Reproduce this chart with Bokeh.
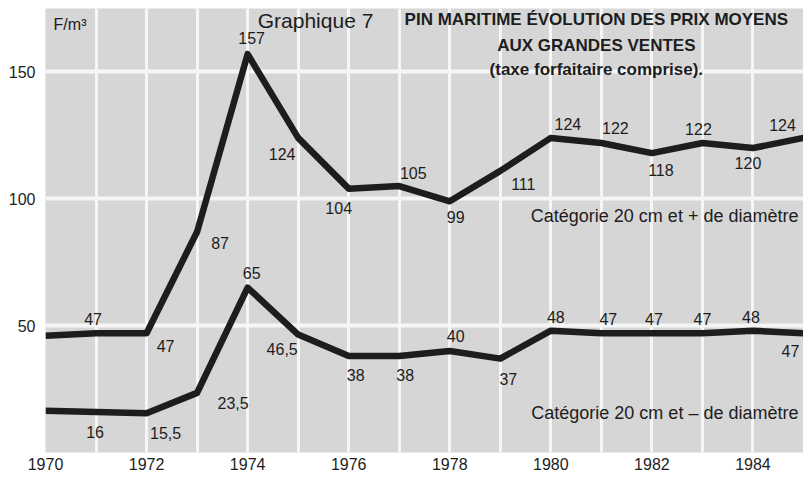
from bokeh.plotting import figure
from bokeh.models import ColumnDataSource, FixedTicker, Label
from bokeh.embed import file_html
from bokeh.resources import INLINE
from bokeh.core.properties import value

# ---- data ----
years = list(range(1970, 1986))
plus_20cm = [46, 47, 47, 87, 157, 124, 104, 105, 99, 111, 124, 122, 118, 122, 120, 124]
minus_20cm = [16.5, 16, 15.5, 23.5, 65, 46.5, 38, 38, 40, 37, 48, 47, 47, 47, 48, 47]
plus_labelled = [False] + [True] * 15
minus_labelled = [False] + [True] * 15
x_tick_years = list(range(1970, 1986, 2))
y_ticks = [50, 100, 150]
series_names = ["Catégorie 20 cm et + de diamètre", "Catégorie 20 cm et – de diamètre"]

# ---- label offsets (pixels) ----
plus_dx = [0, -3, 19, 23, 4, -16, -10, 14, 6, 23, 17, 14, 9, -4, -5, -21]
plus_dy = [0, -14, 13, 11, -16, 16, 19, -13, 16, 13, -14, -15, 17, -14, 15, -13]
minus_dx = [0, -1, 19, 36, 4, -16, 7, 6, 6, 8, 5, 7, 2, 0, -2, -13]
minus_dy = [0, 20, 20, 10, -15, 14, 19, 19, -15, 20, -14, -14, -14, -14, -14, 18]


def fmt(v):
    return f"{v:g}".replace(".", ",")


FONT = "Liberation Sans"
INK = "#1d1d1d"

p = figure(width=803, height=481, output_backend="svg", toolbar_location=None,
           x_range=(1970, 1985), y_range=(0, 175),
           min_border_left=45, min_border_right=0, min_border_top=8, min_border_bottom=29)
p.background_fill_color = "#d6d6d6"
p.border_fill_color = "white"
p.outline_line_color = None

p.xgrid.ticker = FixedTicker(ticks=years)
p.xgrid.grid_line_color = "#f6f6f6"
p.xgrid.grid_line_width = 3
p.ygrid.ticker = FixedTicker(ticks=y_ticks)
p.ygrid.grid_line_color = "#f6f6f6"
p.ygrid.grid_line_width = 4

for ax in (p.xaxis[0], p.yaxis[0]):
    ax.axis_line_color = None
    ax.major_tick_line_color = None
    ax.minor_tick_line_color = None
    ax.major_tick_out = 0
    ax.major_tick_in = 0
    ax.minor_tick_out = 0
    ax.major_label_text_font = FONT
    ax.major_label_text_font_size = "16px"
    ax.major_label_text_color = INK
p.xaxis.ticker = FixedTicker(ticks=x_tick_years)
p.xaxis.major_label_standoff = 5
p.yaxis.ticker = FixedTicker(ticks=y_ticks)
p.yaxis.major_label_standoff = 10

p.line(years, plus_20cm, line_color=INK, line_width=6.5, line_join="round")
p.line(years, minus_20cm, line_color=INK, line_width=6.5, line_join="round")

for vals, lab, dx, dy in ((plus_20cm, plus_labelled, plus_dx, plus_dy),
                          (minus_20cm, minus_labelled, minus_dx, minus_dy)):
    src = ColumnDataSource(dict(
        x=years, y=vals,
        t=[fmt(v) if l else "" for v, l in zip(vals, lab)],
        dx=dx, dy=dy))
    p.text(x="x", y="y", text="t", x_offset="dx", y_offset="dy", source=src,
           text_font=value(FONT), text_font_size="16px", text_color=INK,
           text_align="center", text_baseline="middle")

# unit label
p.add_layout(Label(x=1970.16, y=168.7, text="F/m³", text_font=FONT, text_font_size="16px",
                   text_color=INK, text_align="left", text_baseline="middle"))
# title
p.add_layout(Label(x=1974.2, y=170.3, text="Graphique 7", text_font=FONT, text_font_size="21px",
                   text_color=INK, text_align="left", text_baseline="middle"))
title_lines = ["PIN MARITIME ÉVOLUTION DES PRIX MOYENS", "AUX GRANDES VENTES",
               "(taxe forfaitaire comprise)."]
for txt, yy in zip(title_lines, [170.7, 160.4, 151.0]):
    p.add_layout(Label(x=1980.9, y=yy, text=txt, text_font=FONT,
                       text_font_style="bold", text_font_size="17px", text_color=INK,
                       text_align="center", text_baseline="middle"))
# series names
for txt, yy in zip(series_names, [93.4, 15.4]):
    p.add_layout(Label(x=1984.9, y=yy, text=txt, text_font=FONT, text_font_size="18px",
                       text_color=INK, text_align="right", text_baseline="middle"))

open("out.html", "w").write(file_html(p, INLINE))
